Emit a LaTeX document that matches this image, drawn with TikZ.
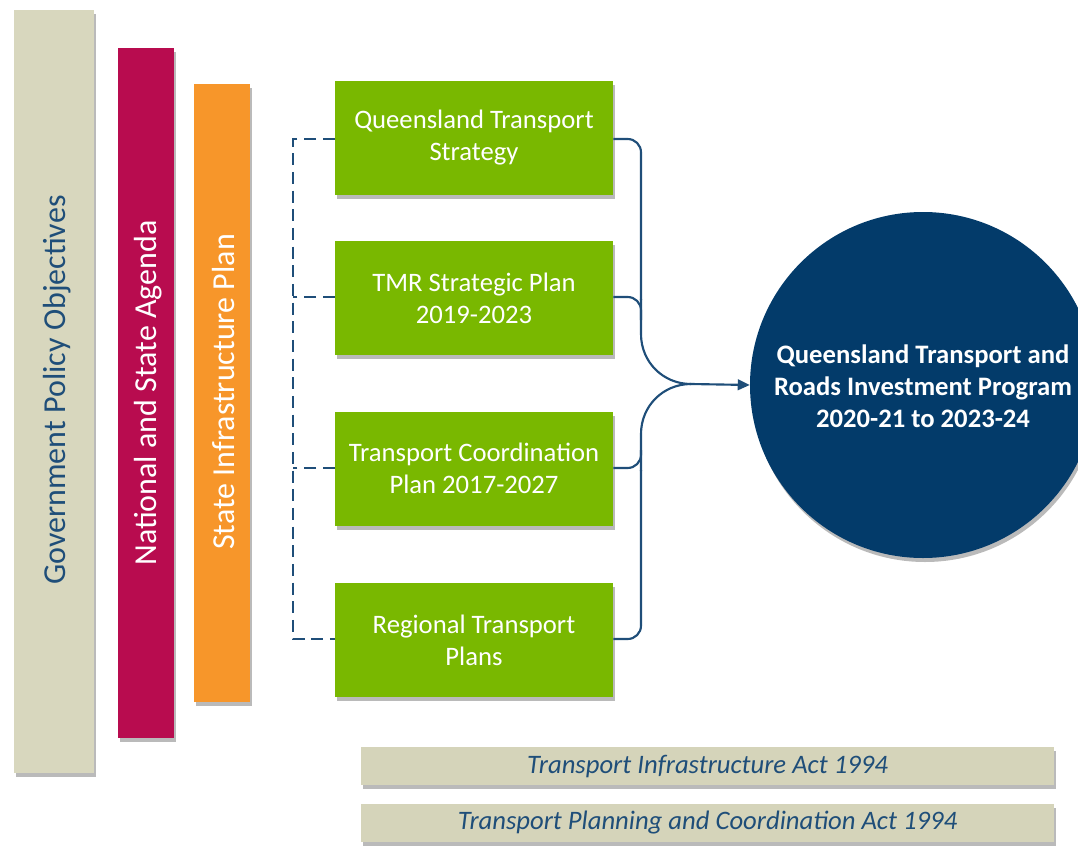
\documentclass[tikz,border=0pt]{standalone}
\usepackage{fontspec}
\setmainfont{Carlito}
\usetikzlibrary{shadows,arrows.meta}
\definecolor{beige}{HTML}{D8D7BE}
\definecolor{beigeb}{HTML}{D5D4BA}
\definecolor{crimson}{HTML}{B80C4F}
\definecolor{orng}{HTML}{F7962A}
\definecolor{grn}{HTML}{79B800}
\definecolor{navy}{HTML}{033B6A}
\definecolor{lineblue}{HTML}{1F4E79}
\tikzset{
  shad/.style={drop shadow={shadow xshift=1.5pt,shadow yshift=-3pt,opacity=0.45,fill=black!60}},
  bar/.style={shad,inner sep=0pt,anchor=north west},
  gbox/.style={shad,fill=grn,inner sep=0pt,minimum width=278*0.75pt,minimum height=114*0.75pt,
    text=white,font=\fontsize{20}{24}\selectfont,align=center},
  actbox/.style={shad,fill=beigeb,inner sep=0pt,minimum width=693*0.75pt,minimum height=38*0.75pt,
    text=lineblue,font=\fontsize{20}{22}\selectfont\itshape},
  vtext/.style={rotate=90,font=\fontsize{24}{26}\selectfont},
  conn/.style={draw=lineblue,line width=1.6pt},
  dconn/.style={draw=lineblue,line width=1.3pt,dash pattern=on 9pt off 5pt},
}
\begin{document}
\begin{tikzpicture}[x=0.75pt,y=-0.75pt]
\useasboundingbox (0,0) rectangle (1078,846);
% vertical bars
\node[bar,fill=beige,minimum width=80*0.75pt,minimum height=763*0.75pt] (gov) at (14,10) {};
\node[bar,fill=crimson,minimum width=56*0.75pt,minimum height=690*0.75pt] (nat) at (118,48) {};
\node[bar,fill=orng,minimum width=56*0.75pt,minimum height=618*0.75pt] (sip) at (194,84) {};
\node[vtext,text=lineblue] (govt) at (57,390) {Government Policy Objectives};
\node[vtext,text=white] (natt) at (148,393) {National and State Agenda};
\node[vtext,text=white] (sipt) at (224,392) {State Infrastructure Plan};
% green boxes
\node[gbox] (q1) at (474,138) {Queensland Transport\\Strategy};
\node[gbox] (q2) at (474,298) {TMR Strategic Plan\\2019-2023};
\node[gbox] (q3) at (474,468.5) {Transport Coordination\\Plan 2017-2027};
\node[gbox] (q4) at (474,640) {Regional Transport\\Plans};
% circle
\node[circle,fill=navy,minimum size=346*0.75pt,inner sep=0pt,shad] (circ) at (923,385) {};
\node[text=white,font=\fontsize{20}{24}\selectfont\bfseries,align=center] (circt) at (923,386)
  {Queensland Transport and\\Roads Investment Program\\2020-21 to 2023-24};
% acts
\node[actbox] (act1) at (707.5,766) {Transport Infrastructure Act 1994};
\node[actbox] (act2) at (707.5,823) {Transport Planning and Coordination Act 1994};
% dashed connectors
\coordinate (dtop) at (293,139);
\coordinate (dbot) at (293,639);
\draw[dconn] (q1.west|-dtop) -- (dtop) -- (dbot) -- (q4.west|-dbot);
\draw[dconn] (q2.west|-0,297) -- (293,297);
\draw[dconn] (q3.west|-0,468) -- (293,468);
% solid connectors
\coordinate (j) at (691,384);
\draw[conn,rounded corners=10] (q1.east|-dtop) -- (641,139) -- (641,300);
\draw[conn] (641,299) -- (641,334) .. controls (641,362) and (663,384) .. (j);
\draw[conn,rounded corners=10] (q4.east|-dbot) -- (641,639) -- (641,470);
\draw[conn] (641,471) -- (641,434) .. controls (641,406) and (663,384) .. (j);
\draw[conn,rounded corners=10] (q2.east|-0,297) -- (641,297) -- (641,320);
\draw[conn,rounded corners=10] (q3.east|-0,468) -- (641,468) -- (641,450);
\draw[conn,-{Triangle[length=9pt,width=8pt]}] (j) -- (circ.west);
\end{tikzpicture}
\end{document}
